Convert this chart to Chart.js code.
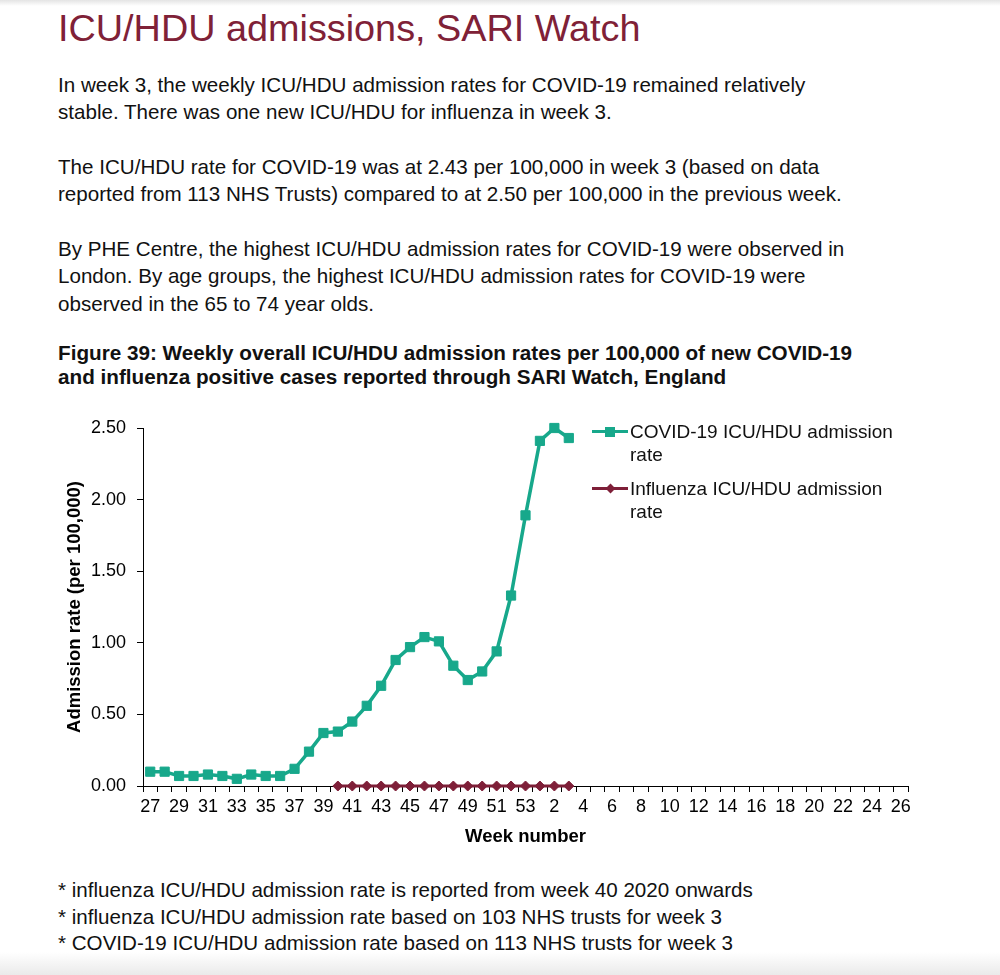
<!DOCTYPE html>
<html>
<head>
<meta charset="utf-8">
<script src="https://cdn.jsdelivr.net/npm/chart.js@4.4.1/dist/chart.umd.min.js"></script>
<style>
html,body{margin:0;padding:0;background:#fff;}
body{width:1000px;height:975px;position:relative;overflow:hidden;font-family:"Liberation Sans",Arial,Helvetica,sans-serif;color:#111;}
.abs{position:absolute;left:58px;margin:0;white-space:nowrap;}
#topshade{position:absolute;left:0;top:0;width:1000px;height:6px;background:linear-gradient(#e4e4e4,#fff);}
#botshade{position:absolute;left:0;top:952px;width:1000px;height:23px;background:linear-gradient(#fff,#eaeaea);}
#title{top:6px;font-size:37.8px;line-height:44px;color:#7f2137;}
.body{font-size:20.6px;line-height:27.4px;}
#p1{top:71px;}
#p2{top:153px;}
#p3{top:235px;}
#cap{top:341px;font-size:20.7px;font-weight:bold;line-height:24px;}
#notes{top:877px;font-size:20.6px;line-height:26.5px;}
#chartwrap{position:absolute;left:0;top:400px;width:1000px;height:460px;}
#legend{position:absolute;left:592px;top:420px;font-size:19px;line-height:23px;color:#111;}
.entry{display:flex;align-items:flex-start;margin-bottom:11px;}
.mark{position:relative;width:38px;height:23px;flex:none;}
.mark .ln{position:absolute;left:0;top:10px;width:36px;height:3px;}
.mark .pt{position:absolute;}
</style>
</head>
<body>
<div id="topshade"></div>
<div id="title" class="abs">ICU/HDU admissions, SARI Watch</div>
<div id="p1" class="abs body">In week 3, the weekly ICU/HDU admission rates for COVID-19 remained relatively<br>stable. There was one new ICU/HDU for influenza in week 3.</div>
<div id="p2" class="abs body">The ICU/HDU rate for COVID-19 was at 2.43 per 100,000 in week 3 (based on data<br>reported from 113 NHS Trusts) compared to at 2.50 per 100,000 in the previous week.</div>
<div id="p3" class="abs body">By PHE Centre, the highest ICU/HDU admission rates for COVID-19 were observed in<br>London. By age groups, the highest ICU/HDU admission rates for COVID-19 were<br>observed in the 65 to 74 year olds.</div>
<div id="cap" class="abs">Figure 39: Weekly overall ICU/HDU admission rates per 100,000 of new COVID-19<br>and influenza positive cases reported through SARI Watch, England</div>
<div id="chartwrap"><canvas id="c" width="1000" height="460"></canvas></div>
<div id="legend"></div>
<div id="notes" class="abs">* influenza ICU/HDU admission rate is reported from week 40 2020 onwards<br>* influenza ICU/HDU admission rate based on 103 NHS trusts for week 3<br>* COVID-19 ICU/HDU admission rate based on 113 NHS trusts for week 3</div>
<div id="botshade"></div>
<script>
// ---- data ----
const weeks = ['27','28','29','30','31','32','33','34','35','36','37','38','39','40','41','42','43','44','45','46','47','48','49','50','51','52','53',
               '1','2','3','4','5','6','7','8','9','10','11','12','13','14','15','16','17','18','19','20','21','22','23','24','25','26'];
const covidRates = [0.10,0.10,0.07,0.07,0.08,0.07,0.05,0.08,0.07,0.07,0.12,0.24,0.37,0.38,0.45,0.56,0.70,0.88,0.97,1.04,1.01,0.84,0.74,0.80,0.94,1.33,1.89,
                    2.41,2.50,2.43];
const fluRates = [null,null,null,null,null,null,null,null,null,null,null,null,null,
                  0.00,0.00,0.00,0.00,0.00,0.00,0.00,0.00,0.00,0.00,0.00,0.00,0.00,0.00,
                  0.00,0.00,0.00];
const seriesNames = ['COVID-19 ICU/HDU admission rate','Influenza ICU/HDU admission rate'];
const seriesLegendLines = [['COVID-19 ICU/HDU admission','rate'],['Influenza ICU/HDU admission','rate']];

const TEAL = '#17a88b';
const MAROON = '#7e1f38';
const FONT = '"Liberation Sans", Arial, sans-serif';

const chart = new Chart(document.getElementById('c'), {
  type: 'line',
  data: {
    labels: weeks,
    datasets: [
      {label: seriesNames[0], data: covidRates, borderColor: TEAL, backgroundColor: TEAL,
       borderWidth: 3.5, pointStyle: 'rect', pointRadius: 6.5, pointBorderWidth: 1,
       pointBorderColor: TEAL, pointBackgroundColor: TEAL, tension: 0, clip: false, spanGaps: false},
      {label: seriesNames[1], data: fluRates, borderColor: MAROON, backgroundColor: MAROON,
       borderWidth: 3, pointStyle: 'rectRot', pointRadius: 5, pointBorderWidth: 1,
       pointBorderColor: MAROON, pointBackgroundColor: MAROON, tension: 0, clip: false}
    ]
  },
  options: {
    responsive: false,
    animation: false,
    layout: {padding: {left: 0, right: 92, top: 28, bottom: 0}},
    plugins: {legend: {display: false}, tooltip: {enabled: false}},
    scales: {
      x: {
        type: 'category',
        offset: true,
        grid: {offset: true, drawOnChartArea: false, drawTicks: true, tickLength: 6, color: '#000', lineWidth: 1},
        border: {display: true, color: '#000', width: 1},
        ticks: {
          autoSkip: false, maxRotation: 0, minRotation: 0, padding: 4, color: '#000',
          font: {family: FONT, size: 18},
          callback: function(v, i) { return i % 2 === 0 ? this.getLabelForValue(v) : ''; }
        },
        title: {display: true, text: 'Week number', color: '#000',
                font: {family: FONT, size: 18.5, weight: 'bold'}, padding: {top: 0, bottom: 12}},
        afterFit: function(s) { s.height = 74; }
      },
      y: {
        min: 0, max: 2.5,
        grid: {drawOnChartArea: false, drawTicks: true, tickLength: 6, color: '#000', lineWidth: 1},
        border: {display: true, color: '#000', width: 1},
        ticks: {stepSize: 0.5, padding: 11, color: '#000', font: {family: FONT, size: 18},
                callback: function(v) { return Number(v).toFixed(2); }},
        title: {display: true, text: 'Admission rate (per 100,000)', color: '#000',
                font: {family: FONT, size: 18.5, weight: 'bold'}, padding: {top: 64, bottom: 0}},
        afterFit: function(s) { s.width = 143; }
      }
    }
  }
});

// ---- HTML legend built from the datasets ----
const legend = document.getElementById('legend');
chart.data.datasets.forEach(function(ds, i) {
  const e = document.createElement('div'); e.className = 'entry';
  const m = document.createElement('div'); m.className = 'mark';
  const ln = document.createElement('div'); ln.className = 'ln'; ln.style.background = ds.borderColor;
  const pt = document.createElement('div'); pt.className = 'pt'; pt.style.background = ds.borderColor;
  if (ds.pointStyle === 'rect') {
    pt.style.left = '13px'; pt.style.top = '6.5px'; pt.style.width = '10px'; pt.style.height = '10px';
  } else {
    pt.style.left = '14.5px'; pt.style.top = '8px'; pt.style.width = '7px'; pt.style.height = '7px';
    pt.style.transform = 'rotate(45deg)';
  }
  m.appendChild(ln); m.appendChild(pt);
  const t = document.createElement('div');
  t.innerHTML = seriesLegendLines[i].join('<br>');
  e.appendChild(m); e.appendChild(t);
  legend.appendChild(e);
});
</script>
</body>
</html>
